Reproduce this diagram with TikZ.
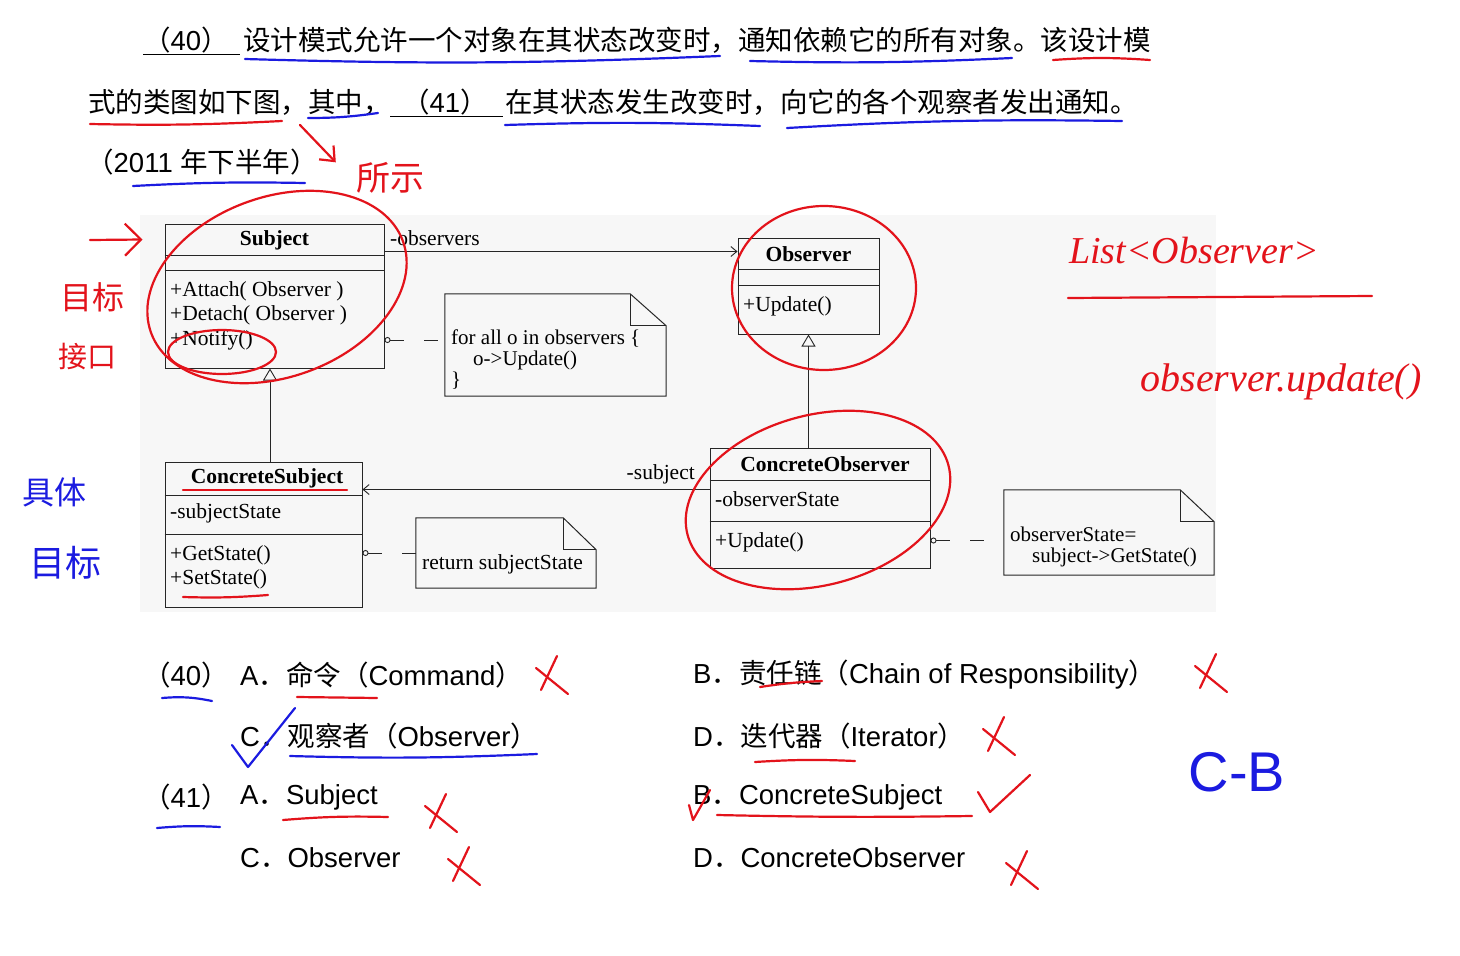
\documentclass[tikz,border=0pt]{standalone}
\usepackage{fontspec}
\setmainfont{Liberation Sans}
\newfontfamily\zhfont{Noto Sans CJK SC}
\newfontfamily\umlfont{Liberation Serif}
\usetikzlibrary{positioning,arrows.meta,calc}
\definecolor{penRed}{HTML}{E3131B}
\definecolor{penBlue}{HTML}{1B1BE0}
\newcommand{\zh}[1]{{\zhfont #1}}
\newcommand{\qfont}{\fontsize{27.5pt}{33pt}\selectfont}
\newcommand{\ufont}{\umlfont\fontsize{21.5pt}{24.5pt}\selectfont}
\newcommand{\nfont}{\umlfont\fontsize{21pt}{21pt}\selectfont}

\begin{document}
\begin{tikzpicture}[
  x=1pt, y=-1pt,
  q/.style    ={anchor=west, inner sep=0pt, font=\qfont},
  cls/.style  ={draw=black!85, line width=1pt, inner sep=0pt},
  cline/.style={draw=black!85, line width=1pt},
  utxt/.style ={anchor=west, inner sep=0pt, font=\ufont},
  uname/.style={inner sep=0pt, font=\ufont\bfseries},
  note/.style ={inner sep=0pt},
  assoc/.style={-{Straight Barb[length=6pt,width=10pt]}, draw=black!85, line width=0.9pt},
  gen/.style  ={-{Triangle[open,length=12pt,width=14pt]}, draw=black!85, line width=0.9pt},
  dep/.style  ={{Circle[open,length=6pt]}-, dash pattern=on 14pt off 20pt, draw=black!85, line width=0.9pt},
  redpen/.style ={draw=penRed, line width=2.2pt, line cap=round, line join=round},
  bluepen/.style={draw=penBlue, line width=2.2pt, line cap=round, line join=round},
  hand/.style ={inner sep=0pt},
]
\fill[white] (0,0) rectangle (1460,956);
\useasboundingbox (0,0) rectangle (1460,956);
\fill[black!3] (140,215) rectangle (1216,612);

% question
\node[q] (b40) at (143,40) {\zh{（}40\zh{）}};
\draw[line width=1.4pt] ([yshift=-1pt]b40.south west) -- ([xshift=11pt,yshift=-1pt]b40.south east);
\node[q] (l1) at (243,40) {\zh{设计模式允许一个对象在其状态改变时，通知依赖它的所有对象。该设计模}};
\node[q] (l2a) at (88,102) {\zh{式的类图如下图，其中，}};
\node[q] (b41) at (402,102) {\zh{（}41\zh{）}};
\draw[line width=1.4pt] ([xshift=-12pt,yshift=-1pt]b41.south west) -- ([xshift=15pt,yshift=-1pt]b41.south east);
\node[q] (l2b) at (505,102) {\zh{在其状态发生改变时，向它的各个观察者发出通知。}};
\node[q] (l3) at (86,162) {\zh{（}2011 \zh{年下半年）}};

% classes
\node[cls, minimum width=219pt, minimum height=144pt] (subj)  at (274.5,296) {};
\node[cls, minimum width=141pt, minimum height=96pt]  (obs)   at (808.5,286) {};
\node[cls, minimum width=197pt, minimum height=145pt] (csubj) at (263.5,534.5) {};
\node[cls, minimum width=220pt, minimum height=120pt] (cobs)  at (820,508) {};
\foreach \c/\d in {subj/32,subj/47,obs/32,obs/48,csubj/34,csubj/73,cobs/33,cobs/74}
  {\draw[cline] ([yshift=-\d pt]\c.north west) -- ([yshift=-\d pt]\c.north east);}

\node[uname] (subjn) at (274.5,240) {Subject};
\node[utxt, align=left] (subjops) at (170,315.5) {+Attach( Observer )\\+Detach( Observer )\\+Notify()};
\node[uname] (obsn) at (808.5,254) {Observer};
\node[utxt] (obsop) at (743,306) {+Update()};
\node[uname] (csubjn) at (267,478) {ConcreteSubject};
\node[utxt] (csubjat) at (170,513) {-subjectState};
\node[utxt, align=left] (csubjops) at (170,567.5) {+GetState()\\+SetState()};
\node[uname] (cobsn) at (825,464) {ConcreteObserver};
\node[utxt] (cobsat) at (715,499) {-observerState};
\node[utxt] (cobsop) at (715,542) {+Update()};

% notes
\node[note, minimum width=221pt, minimum height=102pt] (note1) at (555.5,345) {};
\node[note, minimum width=180pt, minimum height=70pt]  (note2) at (506,553) {};
\node[note, minimum width=210pt, minimum height=85pt]  (note3) at (1109,532.5) {};
\foreach \n/\fx/\fy in {note1/36/32,note2/33/32,note3/34/32}{
  \draw[cline] (\n.north west) -- ([xshift=-\fx pt]\n.north east) -- ([yshift=-\fy pt]\n.north east)
    -- (\n.south east) -- (\n.south west) -- cycle;
  \draw[cline] ([xshift=-\fx pt]\n.north east) |- ([yshift=-\fy pt]\n.north east);
}
\node[utxt, font=\nfont, align=left] (n1t) at (451,360) {for all o in observers \{\\\hspace{22pt}o->Update()\\\}};
\node[utxt] (n2t) at (422,564) {return subjectState};
\node[utxt, font=\nfont, align=left] (n3t) at (1010,546.5) {observerState=\\\hspace{22pt}subject->GetState()};

% relations
\coordinate (a1) at ([yshift=-28pt]subj.north east);
\draw[assoc] (a1) -- (a1 -| obs.west);
\node[utxt] (lobs) at (390,238) {-observers};
\coordinate (a2) at ([yshift=-42pt]cobs.north west);
\draw[assoc] (a2) -- (a2 -| csubj.east);
\node[utxt, anchor=east] (lsubj) at (695,474) {-subject};
\draw[gen] ([xshift=-4.5pt]subj.south |- csubj.north) -- ([xshift=-4.5pt]subj.south);
\draw[gen] (obs.south |- cobs.north) -- (obs.south);
\coordinate (d1) at ([yshift=5pt]note1.west);
\draw[dep] (d1 -| subj.east) -- (d1);
\draw[dep] (note2.west -| csubj.east) -- (note2.west);
\coordinate (d3) at ([yshift=-8pt]note3.west);
\draw[dep] (d3 -| cobs.east) -- (d3);

% answers
\node[q] (a40)  at (143,675) {\zh{（}40\zh{）}};
\node[q] (o40a) at (240,675) {A\zh{．命令（}Command\zh{）}};
\node[q] (o40b) at (693,675) {B\zh{．责任链（}Chain of Responsibility\zh{）}};
\node[q] (o40c) at (240,736) {C\zh{．观察者（}Observer\zh{）}};
\node[q] (o40d) at (693,736) {D\zh{．迭代器（}Iterator\zh{）}};
\node[q] (a41)  at (143,797) {\zh{（}41\zh{）}};
\node[q] (o41a) at (240,797) {A\zh{．}Subject};
\node[q] (o41b) at (693,797) {B\zh{．}ConcreteSubject};
\node[q] (o41c) at (240,858) {C\zh{．}Observer};
\node[q] (o41d) at (693,858) {D\zh{．}ConcreteObserver};

% pen marks
\draw[bluepen] (245,59) to[bend right=2] (720,56);
\draw[bluepen] (750,61) to[bend right=2] (1012,58);
\draw[redpen]  (1053,60) to[bend left=4] (1150,60);
\draw[redpen]  (90,124) to[bend right=2] (282,121);
\draw[bluepen] (308,118) to[bend right=4] (378,113);
\draw[bluepen] (505,125) to[bend left=2] (760,126);
\draw[bluepen] (787,128) to[bend left=2] (1122,121);
\draw[bluepen] (133,186) to[bend left=2] (305,183);
\draw[redpen]  (183,490) -- (347,490);
\draw[redpen]  (183,597) to[bend right=3] (268,595);
\draw[redpen]  (1068,298) -- (1372,296);
\draw[bluepen] (162,698) to[bend left=8] (212,701);
\draw[redpen]  (297,697) -- (377,698);
\draw[redpen]  (760,687) to[bend left=3] (822,681);
\draw[bluepen] (290,756) to[bend right=2] (537,754);
\draw[redpen]  (755,762) to[bend left=3] (855,761);
\draw[bluepen] (157,828) to[bend left=4] (220,827);
\draw[redpen]  (283,820) to[bend left=3] (388,817);
\draw[redpen]  (717,815) to[bend right=1] (972,816);

\draw[redpen] (277,287) ellipse [x radius=134pt, y radius=90pt, rotate=20];
\draw[redpen] (222,352) ellipse [x radius=54pt, y radius=22pt];
\draw[redpen] (824,288) ellipse [x radius=92pt, y radius=82pt];
\draw[redpen] (818,500) ellipse [x radius=135pt, y radius=85pt, rotate=15];

\coordinate (r1) at (90,240);
\draw[redpen, -{Straight Barb[length=16pt,width=32pt]}] (r1) -- ([xshift=-22pt,yshift=-16pt]subj.north west);
\node[hand, text=penRed, font=\zhfont\fontsize{34pt}{34pt}\selectfont] (hsuoshi) at (390,178) {所示};
\coordinate (r2) at (300,125);
\draw[redpen, -{Straight Barb[length=12pt,width=20pt]}] (r2) -- ($(hsuoshi.north west)+(-20,0)$);
\node[hand, text=penRed, font=\zhfont\fontsize{32pt}{32pt}\selectfont] (hmubiao) at (92,297) {目标};
\node[hand, text=penRed, font=\zhfont\fontsize{29pt}{29pt}\selectfont] (hjiekou) at (87,357) {接口};
\node[hand, text=penBlue, font=\zhfont\fontsize{32pt}{32pt}\selectfont] (hjuti) at (55,492) {具体};
\node[hand, text=penBlue, font=\zhfont\fontsize{36pt}{36pt}\selectfont] (hmubiao2) at (66,563) {目标};
\node[hand, text=penRed, font=\umlfont\itshape\fontsize{38pt}{38pt}\selectfont] (hlist) at (1194,250) {List<Observer>};
\node[hand, text=penRed, font=\umlfont\itshape\fontsize{40pt}{40pt}\selectfont] (hupd) at (1281,382) {observer.update()};
\node[hand, text=penBlue, font=\fontsize{56pt}{56pt}\selectfont] (hcb) at (1237,772) {C-B};

\foreach \cx/\cy in {550/674,1209/672,997/735,439/812,462/865,1020/869}{
  \draw[redpen] (\cx+7,\cy-18) -- (\cx-9,\cy+16);
  \draw[redpen] (\cx-14,\cy-6) -- (\cx+18,\cy+20);
}
\draw[bluepen] (232,745) -- (248,767) -- (295,708);
\draw[redpen] (978,792) -- (990,812) -- (1030,775);
\draw[redpen] (689,805) -- (693,820) -- (710,790);
\end{tikzpicture}
\end{document}
